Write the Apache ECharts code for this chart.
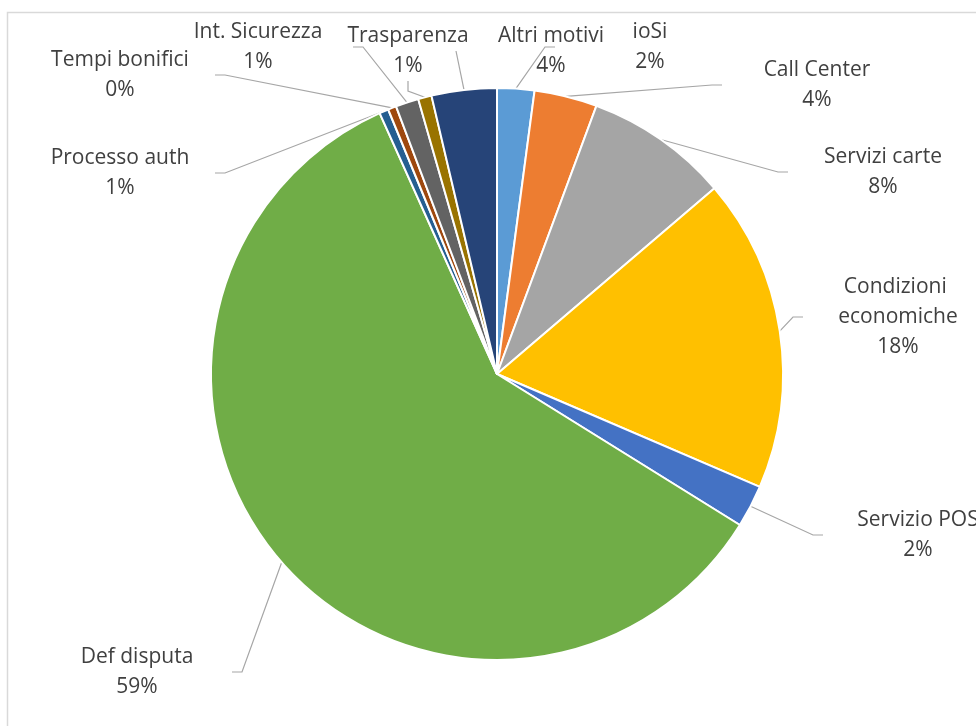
<!DOCTYPE html>
<html><head><meta charset="utf-8">
<script src="https://cdn.jsdelivr.net/npm/echarts@6/dist/echarts.min.js"></script>
<style>html,body{margin:0;padding:0;background:#fff;}#c{width:976px;height:726px;}</style>
</head><body><div id="c"></div>
<script>
const categories = ['ioSi','Call Center','Servizi carte','Condizioni economiche','Servizio POS','Def disputa','Processo auth','Tempi bonifici','Int. Sicurezza','Trasparenza','Altri motivi'];
const values = [2.1, 3.55, 8.1, 17.7, 2.4, 59.41, 0.52, 0.47, 1.3, 0.76, 3.68];
const colors = ['#5B9BD5','#ED7D31','#A5A5A5','#FFC000','#4472C4','#70AD47','#255E91','#9E480E','#636363','#997300','#264478'];

// label anchor (centre x, top y) per category – layout only
const labelPos = {
  'ioSi':[650,17], 'Call Center':[817,55], 'Servizi carte':[883,142],
  'Condizioni economiche':[898,272], 'Servizio POS':[918,505], 'Def disputa':[137,642],
  'Processo auth':[120,143], 'Tempi bonifici':[120,45], 'Int. Sicurezza':[258,17],
  'Trasparenza':[408,21], 'Altri motivi':[551,21]
};

const chart = echarts.init(document.getElementById('c'));
chart.setOption({
  animation:false,
  color: colors,
  graphic:[{type:'rect', left:5, top:10, shape:{width:1000,height:800}, style:{fill:'none', stroke:'#D9D9D9', lineWidth:1.5}, silent:true}],
  series:[{
    type:'pie',
    center:[497,374],
    radius:286,
    startAngle:90,
    clockwise:true,
    avoidLabelOverlap:false,
    itemStyle:{borderColor:'#fff', borderWidth:2},
    label:{
      show:true,
      fontFamily:'"Open Sans", sans-serif',
      fontSize:21,
      lineHeight:30,
      color:'#404040',
      width:190,
      overflow:'break',
      formatter: p => p.name + '\n' + Math.round(p.percent) + '%'
    },
    labelLine:{show:true, length:10, length2:10, lineStyle:{color:'#A6A6A6', width:1.2}},
    labelLayout: function(params){
      const name = categories[params.dataIndex];
      const pos = labelPos[name];
      return {x:pos[0], y:pos[1], align:'center', verticalAlign:'top'};
    },
    data: categories.map((c,i)=>({name:c, value:values[i]}))
  }]
});
</script>
</body></html>
